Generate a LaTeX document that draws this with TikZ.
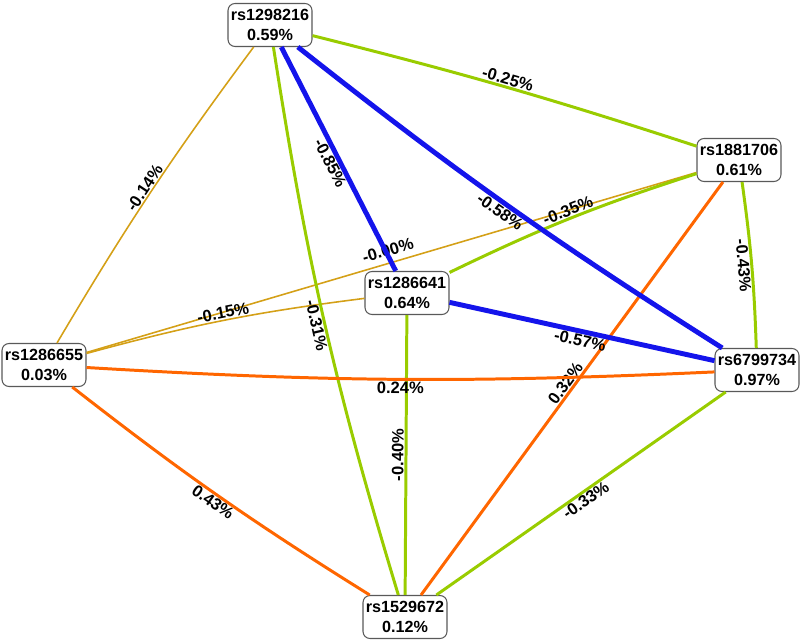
\documentclass[tikz,border=0pt]{standalone}
\usepackage{fontspec}
\setmainfont{Liberation Sans}
\usetikzlibrary{positioning}

\definecolor{edgeblue}{RGB}{20,20,235}
\definecolor{edgegreen}{RGB}{153,204,0}
\definecolor{edgeorange}{RGB}{255,102,0}
\definecolor{edgegold}{RGB}{212,160,23}

\tikzset{
	snp/.style={draw=black!65, fill=white, rounded corners=4pt, line width=0.6pt,
		align=center, font=\bfseries\fontsize{9.2}{11.3}\selectfont,
		minimum width=1.68cm, minimum height=0.86cm, inner sep=1pt},
	blueline/.style={edgeblue, line width=2.8pt},
	greenline/.style={edgegreen, line width=1.7pt},
	orangeline/.style={edgeorange, line width=1.7pt},
	goldline/.style={edgegold, line width=0.9pt},
	wt/.style={font=\bfseries\fontsize{9.4}{11}\selectfont, sloped, midway,
		inner sep=0.5pt, text=black}
}

\begin{document}
\begin{tikzpicture}[x=0.02cm, y=-0.02cm]
	\useasboundingbox (0,0) rectangle (800,641);
	
	% SNP nodes
	\node[snp] (n1298216) at (270,25) {rs1298216\\0.59\%};
	\node[snp] (n1881706) at (739,160) {rs1881706\\0.61\%};
	\node[snp] (n1286641) at (407,293) {rs1286641\\0.64\%};
	\node[snp] (n1286655) at (44,365) {rs1286655\\0.03\%};
	\node[snp] (n6799734) at (757,370) {rs6799734\\0.97\%};
	\node[snp] (n1529672) at (405,617) {rs1529672\\0.12\%};
	
	% weak links
	\draw[goldline] (n1298216) to[bend right=3] node[wt, above] {-0.14\%} (n1286655);
	\draw[goldline] (n1881706) -- node[wt, above=3pt] {-0.00\%} (n1286655);
	\draw[goldline] (n1286641) to[bend right=4] node[wt, above] {-0.15\%} (n1286655);
	
	% green links
	\draw[greenline] (n1298216) to[bend left=2] node[wt, above] {-0.25\%} (n1881706);
	\draw[greenline] (n1298216) to[bend right=4] node[wt, below] {-0.31\%} (n1529672);
	\draw[greenline] (n1881706) to[bend right=4] node[wt, above] {-0.35\%} (n1286641);
	\draw[greenline] (n1881706) to[bend left=3] node[wt, below] {-0.43\%} (n6799734);
	\draw[greenline] (n1529672) -- node[wt, above] {-0.40\%} (n1286641);
	\draw[greenline] (n6799734) -- node[wt, below] {-0.33\%} (n1529672);
	
	% orange links
	\draw[orangeline] (n1881706) -- node[wt, above] {0.32\%} (n1529672);
	\draw[orangeline] (n1286655) to[bend right=3] node[wt, below] {0.24\%} (n6799734);
	\draw[orangeline] (n1286655) to[bend right=3] node[wt, below] {0.43\%} (n1529672);
	
	% strong links
	\draw[blueline] (n1298216) -- node[wt, below] {-0.85\%} (n1286641);
	\draw[blueline] (n1298216) to[bend right=3] node[wt, below] {-0.58\%} (n6799734);
	\draw[blueline] (n1286641) -- node[wt, below] {-0.57\%} (n6799734);
\end{tikzpicture}
\end{document}
